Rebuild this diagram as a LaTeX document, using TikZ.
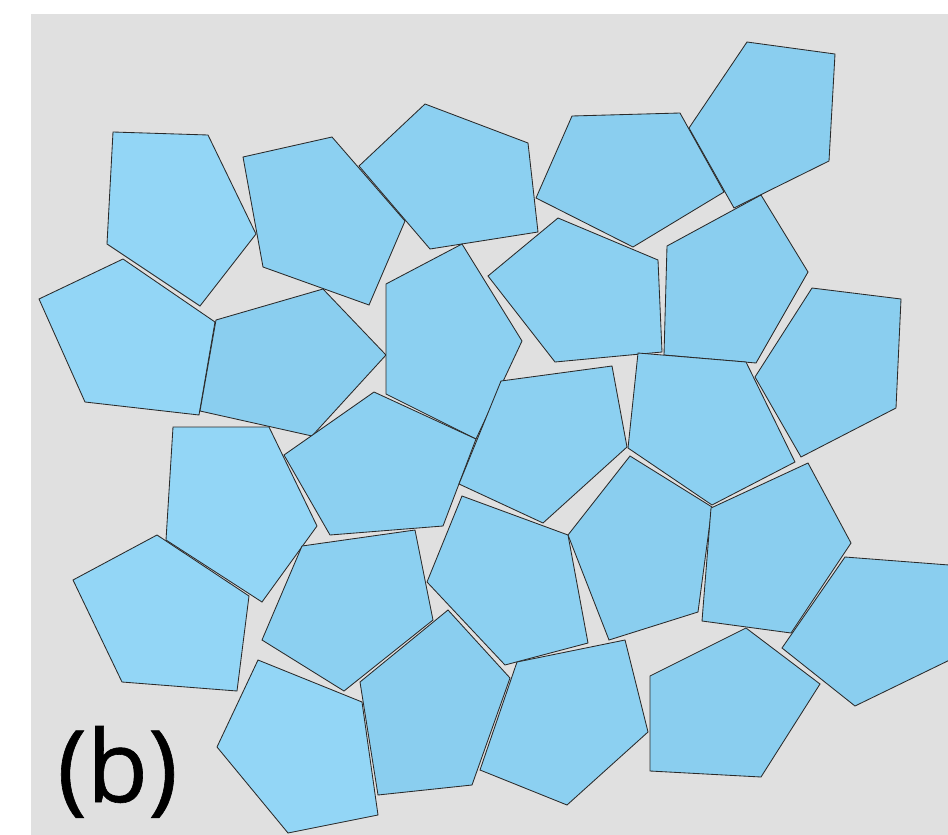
\documentclass[tikz,border=0pt]{standalone}
\usepackage{fontspec}
\newfontfamily\labelfont[FakeBold=0.6]{Open Sans}
\definecolor{bg}{HTML}{E0E0E0}
\definecolor{pa}{HTML}{93D6F6}
\definecolor{pb}{HTML}{8CD0F1}
\definecolor{pc}{HTML}{8ACEEF}
\definecolor{edge}{HTML}{2A2A2A}
\tikzset{
  penta/.style={draw=edge, line width=0.85pt, line join=miter, fill=pb},
  pentalight/.style={penta, fill=pa},
  pentadark/.style={penta, fill=pc}
}
\begin{document}
\begin{tikzpicture}[x=1pt,y=-1pt]
\useasboundingbox (0,0) rectangle (948,835);
\fill[white] (0,0) rectangle (948,835);
\fill[bg] (31,14) rectangle (948,835);
\begin{scope}
\clip (31,14) rectangle (948,835);
% row 1
\draw[pentalight] (113,132) -- (208,135) -- (256,234) -- (200,306) -- (107,244) -- cycle;
\draw[penta] (243,157) -- (332,137) -- (405,221) -- (369,305) -- (263,267) -- cycle;
\draw[penta] (425,104) -- (528,143) -- (538,232) -- (430,249) -- (359,166) -- cycle;
\draw[pentadark] (572,116) -- (680,113) -- (724,192) -- (633,247) -- (536,198) -- cycle;
\draw[pentadark] (747,42) -- (835,54) -- (829,161) -- (734,208) -- (689,128) -- cycle;
% row 2
\draw[pentalight] (39,299) -- (123,259) -- (215,322) -- (199,415) -- (85,402) -- cycle;
\draw[pentadark] (216,320) -- (323,289) -- (386,355) -- (312,436) -- (200,411) -- cycle;
\draw[penta] (386,284) -- (462,244) -- (522,341) -- (476,439) -- (386,394) -- cycle;
\draw[penta] (488,276) -- (558,218) -- (658,260) -- (662,352) -- (555,362) -- cycle;
\draw[pentadark] (667,246) -- (761,195) -- (808,272) -- (756,363) -- (664,355) -- cycle;
\draw[pentadark] (812,288) -- (901,299) -- (896,408) -- (801,457) -- (755,377) -- cycle;
% row 3
\draw[pentalight] (173,427) -- (269,427) -- (317,526) -- (262,602) -- (166,540) -- cycle;
\draw[penta] (284,455) -- (374,392) -- (476,439) -- (443,526) -- (330,535) -- cycle;
\draw[penta] (501,381) -- (612,366) -- (627,447) -- (543,523) -- (459,484) -- cycle;
\draw[penta] (638,353) -- (746,362) -- (795,462) -- (712,505) -- (628,448) -- cycle;
\draw[pentadark] (630,456) -- (712,507) -- (698,612) -- (609,640) -- (568,535) -- cycle;
\draw[pentadark] (711,508) -- (808,463) -- (851,543) -- (791,633) -- (702,621) -- cycle;
\draw[pentadark] (845,557) -- (962,566) -- (960,655) -- (855,706) -- (782,648) -- cycle;
% row 4
\draw[penta] (462,496) -- (568,535) -- (588,643) -- (505,665) -- (427,582) -- cycle;
\draw[penta] (302,546) -- (415,530) -- (433,620) -- (344,691) -- (262,640) -- cycle;
\draw[pentalight] (73,580) -- (157,535) -- (249,596) -- (237,691) -- (122,682) -- cycle;
% row 5
\draw[pentalight] (258,660) -- (362,702) -- (378,815) -- (288,833) -- (217,747) -- cycle;
\draw[pentadark] (448,610) -- (510,678) -- (472,785) -- (378,795) -- (360,682) -- cycle;
\draw[penta] (517,662) -- (625,640) -- (648,732) -- (567,805) -- (480,770) -- cycle;
\draw[pentadark] (650,676) -- (746,628) -- (820,684) -- (761,777) -- (650,771) -- cycle;
\end{scope}
\node[anchor=base, inner sep=0pt, font=\labelfont\fontsize{100}{110}\selectfont] (lbl) at (117.5,802) {(b)};
\end{tikzpicture}
\end{document}
